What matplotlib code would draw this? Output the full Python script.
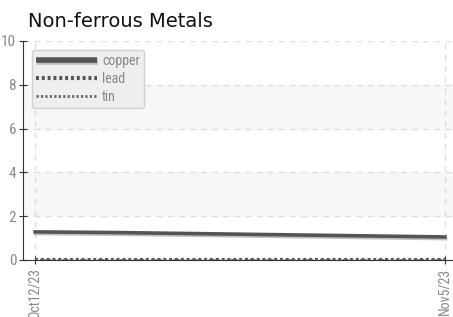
import matplotlib.pyplot as plt
import matplotlib.patheffects as pe
import numpy as np

dates = ["Oct12/23", "Oct17/23", "Oct22/23", "Oct26/23", "Oct31/23", "Nov5/23"]
copper = [1.28, 1.25, 1.20, 1.15, 1.10, 1.05]
lead = [0.02, 0.02, 0.02, 0.02, 0.02, 0.02]
tin = [0.01, 0.01, 0.01, 0.01, 0.01, 0.01]
yticks = [0, 2, 4, 6, 8, 10]

plt.rcParams['font.family'] = ['Roboto Condensed', 'DejaVu Sans']

fig = plt.figure(figsize=(4.53, 3.17), dpi=100)
ax = fig.add_axes([0.051, 0.18, 0.96, 0.691])

x = np.arange(len(dates))

# alternating bands
for lo in (2, 6):
    ax.axhspan(lo, lo + 2, color='#f7f7f7', zorder=0)

shadow = [pe.SimpleLineShadow(offset=(0.5, -1.2), shadow_color='#999999', alpha=0.6), pe.Normal()]
ax.plot(x, copper, color='#555555', lw=2.6, path_effects=shadow, label='copper', zorder=3)
ax.plot(x, lead, color='#555555', lw=3, linestyle=(0, (0.7, 0.7)), label='lead', zorder=3)
ax.plot(x, tin, color='#666666', lw=2, linestyle=(0, (0.8, 0.8)), label='tin', zorder=3)

ax.set_xlim(-0.146, 5.16)
ax.set_ylim(0, 10)
ax.set_yticks(yticks)
ax.set_xticks([0, len(dates) - 1])
ax.set_xticklabels([dates[0], dates[-1]], rotation=90, va='top')

ax.grid(True, color='#dddddd', linestyle=(0, (4, 4)), lw=1)
ax.set_axisbelow(True)
for s in ('top', 'right'):
    ax.spines[s].set_visible(False)
ax.spines['left'].set_color('#333333')
ax.spines['bottom'].set_color('#333333')
ax.tick_params(axis='y', direction='inout', length=6, colors='#333333', labelcolor='#888888', labelsize=11, pad=2)
ax.tick_params(axis='x', direction='inout', length=6, colors='#333333', labelcolor='#888888', labelsize=10, pad=3)

leg = ax.legend(loc='upper left', bbox_to_anchor=(0.02, 0.96), handlelength=4.4, handletextpad=0.35,
                fontsize=10, labelcolor='#888888', fancybox=True, framealpha=1,
                borderpad=0.3, borderaxespad=0, labelspacing=0.3)
leg.get_frame().set_facecolor('#eeeeee')
leg.get_frame().set_edgecolor('#d0d0d0')
for h, w in zip(leg.get_lines(), (4, 3, 2)):
    h.set_linewidth(w)
    h.set_solid_capstyle('butt')

fig.text(28 / 453, 1 - 27 / 317, "Non-ferrous Metals", fontsize=14, color='#111111', family=['DejaVu Sans'])

fig.savefig('out.png', dpi=100)
